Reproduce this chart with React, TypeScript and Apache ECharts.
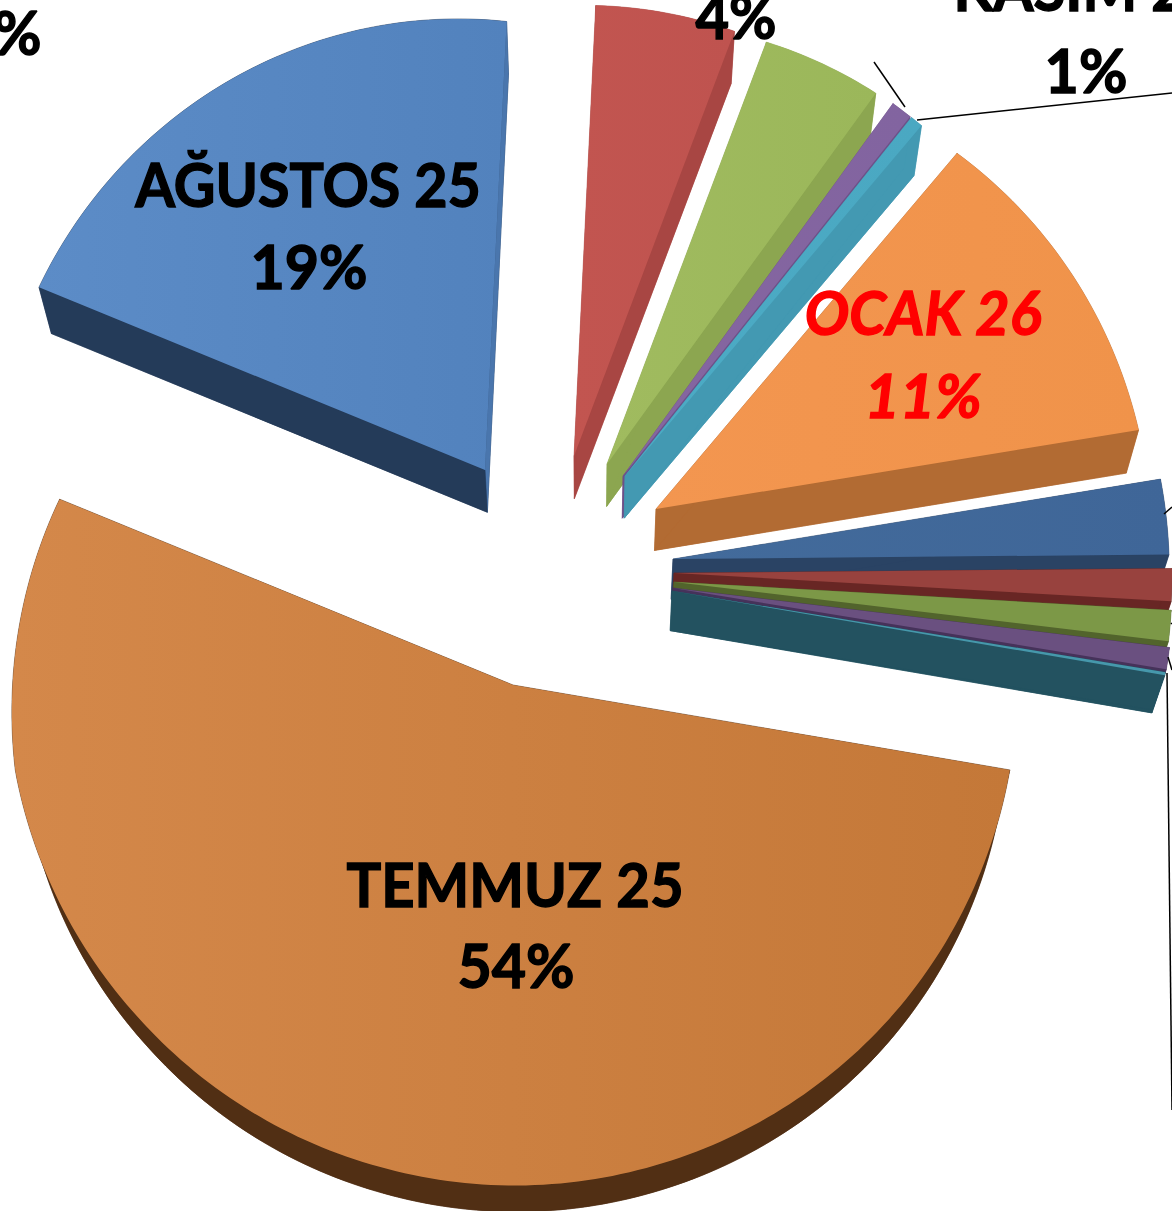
import React, { useEffect, useRef } from "react";
import * as echarts from "echarts";

// ---- data (percent of the whole) ----
const categories = ["TEMMUZ 25", "AĞUSTOS 25", "EYLÜL 25", "EKİM 25", "ARALIK 25", "KASIM 25", "OCAK 26", "ŞUBAT 26", "MART 26", "NİSAN 26", "MAYIS 26", "HAZİRAN 26"];
const values = [53.7, 19.65, 5.0, 4.25, 0.75, 0.45, 11.28, 2.45, 1.05, 1.0, 0.7, 0.1];
const shownPercents = [54, 19, 5, 4, 1, 1, 11, 2, 1, 1, 1, 0];

// ---- layout of the exploded 3D pie ----
const START_ANGLE = 99.7; // clockwise from 12 o'clock
const VANISH = [590, 2350];
const DEPTH = 0.0225;
const sliceTips = [
  [513, 685], [485, 470], [574, 456], [607, 464], [623, 476], [625, 476],
  [656, 509], [673, 559], [674, 573], [674, 582], [673, 588], [672, 591],
];
const sliceRadii = [
  [504, 503, 501, 500, 501, 505, 490],
  [482, 449],
  [451, 454],
  [451, 458],
  [460, 460],
  [459, 459],
  [466, 489],
  [494, 496],
  [498, 498],
  [498, 498],
  [500, 500],
  [500, 500],
];
const topColors = [
  ["#d4884a", "#c47838"], ["#5c8cc7", "#5282bd"], ["#c25550", "#bf534f"], ["#a0bb5f", "#9bb75a"],
  ["#8566a0", "#8264a0"], ["#4cabc5", "#4aa8c2"], ["#f39650", "#f0934a"], ["#436b9b", "#3f6698"],
  ["#98423e", "#98423e"], ["#7c9847", "#7c9847"], ["#6a5080", "#6a5080"], ["#4698ac", "#4698ac"],
];
const wallColors = [
  "#512f14", "#243b59", "#a84643", "#8ca650", "#6e5088", "#4399b2",
  "#b26b33", "#2a4364", "#682624", "#52642c", "#46325a", "#235260",
];
const endWallColors = [
  "#512f14", "#4a76ad", "#a84643", "#8ca650", "#6e5088", "#4399b2",
  "#b26b33", "#2a4364", "#682624", "#52642c", "#46325a", "#235260",
];
const leaderLines = [
  [905, 107, 874, 62],
  [917, 120, 1172, 93],
  [1164, 514, 1172, 507],
  [1171, 623, 1172, 624],
  [1168, 657, 1172, 670],
  [1167, 673, 1172, 1110],
];
const FONT = "Lato, 'Open Sans', sans-serif";
const labels = [
  { text: `${categories[0]}`, x: 515, y: 883, sx: 0.95 },
  { text: `${shownPercents[0]}%`, x: 516, y: 965, sx: 0.97 },
  { text: `${categories[1]}`, x: 308, y: 184, sx: 0.94 },
  { text: `${shownPercents[1]}%`, x: 309, y: 266, sx: 0.97 },
  { text: `${categories[6]}`, x: 923, y: 312, color: "#ff0000", italic: true, sx: 0.97 },
  { text: `${shownPercents[6]}%`, x: 923, y: 394, color: "#ff0000", italic: true, sx: 1 },
  { text: `${shownPercents[3]}%`, x: 736, y: 15, sx: 0.95 },
  { text: `${categories[5]}`, x: 1086, y: -13, sx: 0.95 },
  { text: `${shownPercents[5]}%`, x: 1086, y: 70, sx: 0.97 },
  { text: `${shownPercents[2]}%`, x: 0, y: 32, sx: 0.97 },
];

const total = values.reduce((a, b) => a + b, 0);
const starts: number[] = [];
values.reduce((acc, v, i) => {
  starts[i] = acc;
  return acc + (v / total) * 360;
}, START_ANGLE);

function radiusAt(keys: number[], f: number) {
  const p = f * (keys.length - 1);
  const i = Math.min(Math.floor(p), keys.length - 2);
  return keys[i] + (keys[i + 1] - keys[i]) * (p - i);
}
const lower = (p: number[]) => [p[0] + DEPTH * (VANISH[0] - p[0]), p[1] + DEPTH * (VANISH[1] - p[1])];

function renderSlice(params: any, api: any) {
  const i = params.dataIndex;
  const sweep = (api.value(0) / total) * 360;
  const tip = sliceTips[i];
  const steps = Math.max(2, Math.ceil(sweep));
  const arc: number[][] = [];
  for (let s = 0; s <= steps; s++) {
    const f = s / steps;
    const a = ((starts[i] + f * sweep) * Math.PI) / 180;
    const r = radiusAt(sliceRadii[i], f);
    arc.push([tip[0] + r * Math.sin(a), tip[1] - r * Math.cos(a)]);
  }
  const face = [tip, ...arc];
  const low = face.map(lower);
  const lowArc = arc.map(lower);
  const wall = wallColors[i];
  const endWall = endWallColors[i];
  const poly = (points: number[][], fill: any, stroke?: string) => ({
    type: "polygon",
    shape: { points },
    style: { fill, stroke: stroke || "none", lineWidth: stroke ? 0.5 : 0 },
    silent: true,
  });
  const last = arc[arc.length - 1];
  return {
    type: "group",
    children: [
      poly(low, wall, wall),
      poly([...arc, ...lowArc.slice().reverse()], wall, wall),
      poly([tip, last, lower(last), lower(tip)], endWall, endWall),
      poly([tip, arc[0], lower(arc[0]), lower(tip)], wall, wall),
      poly(face, {
        type: "linear", x: 0, y: 0, x2: 1, y2: 0,
        colorStops: [
          { offset: 0, color: topColors[i][0] },
          { offset: 1, color: topColors[i][1] },
        ],
      }),
    ],
  };
}

export default function App() {
  const ref = useRef<HTMLDivElement>(null);
  useEffect(() => {
    const chart = echarts.init(ref.current!, undefined, { renderer: "svg" });
    chart.setOption({
      animation: false,
      backgroundColor: "#ffffff",
      series: [
        {
          type: "custom",
          coordinateSystem: "none",
          renderItem: renderSlice,
          data: values,
          silent: true,
          z: 1,
        },
      ],
      graphic: {
        elements: [
          ...leaderLines.map((l) => ({
            type: "line",
            shape: { x1: l[0], y1: l[1], x2: l[2], y2: l[3] },
            style: { stroke: "#000000", lineWidth: 1.5 },
            silent: true,
            z: 5,
          })),
          ...labels.map((l) => ({
            type: "text",
            x: l.x,
            y: l.y,
            scaleX: l.sx,
            style: {
              text: l.text,
              fill: l.color || "#000000",
              stroke: l.color || "#000000",
              lineWidth: 1.4,
              font: `${l.italic ? "italic " : ""}bold 61px ${FONT}`,
              textAlign: "center",
              textVerticalAlign: "middle",
            },
            silent: true,
            z: 6,
          })),
        ],
      },
    });
    return () => chart.dispose();
  }, []);
  return (
    <div
      ref={ref}
      style={{ position: "absolute", left: 0, top: 0, width: 1172, height: 1211, overflow: "hidden" }}
    />
  );
}
